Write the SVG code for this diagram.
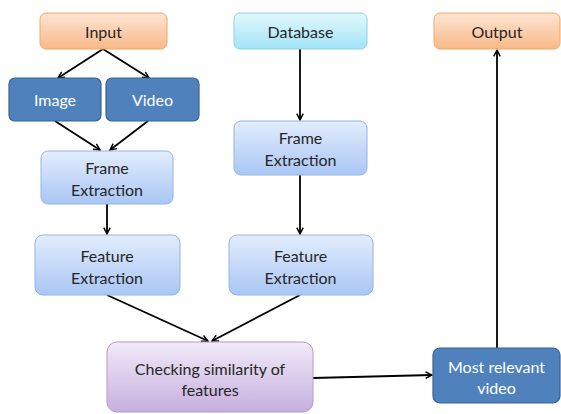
<svg xmlns="http://www.w3.org/2000/svg" width="561" height="414" viewBox="0 0 561 414">
<style>
text{font-family:Lato,"Liberation Sans",sans-serif;font-size:16px;text-anchor:middle;dominant-baseline:central;fill:#262626}
.w{fill:#ffffff}
.conn{stroke:#000;stroke-width:1.8;fill:none;marker-end:url(#ah)}
.or{fill:url(#gOr);stroke:#f2a766;stroke-width:1}
.cy{fill:url(#gCy);stroke:#8fcfe6;stroke-width:1}
.lb{fill:url(#gLb);stroke:#95b3e3;stroke-width:1}
.db{fill:#4f81bd;stroke:#3a6291;stroke-width:1.2}
.pu{fill:url(#gPu);stroke:#b49ad0;stroke-width:1}
</style>
<defs>
<linearGradient id="gOr" x1="0" y1="0" x2="0" y2="1"><stop offset="0" stop-color="#fde6d4"/><stop offset="1" stop-color="#f9b888"/></linearGradient>
<linearGradient id="gCy" x1="0" y1="0" x2="0" y2="1"><stop offset="0" stop-color="#e2f8fd"/><stop offset="1" stop-color="#a3e4f7"/></linearGradient>
<linearGradient id="gLb" x1="0" y1="0" x2="0" y2="1"><stop offset="0" stop-color="#e3edfd"/><stop offset="1" stop-color="#a9c6f4"/></linearGradient>
<linearGradient id="gPu" x1="0" y1="0" x2="0" y2="1"><stop offset="0" stop-color="#f1eaf8"/><stop offset="1" stop-color="#c6afdf"/></linearGradient>
<marker id="ah" viewBox="0 0 10 10" refX="9" refY="5" markerWidth="8" markerHeight="8" orient="auto" markerUnits="userSpaceOnUse">
<path d="M1,1 L9,5 L1,9" fill="none" stroke="#000" stroke-width="1.8"/>
</marker>
</defs>
<g id="connectors">
<path class="conn" d="M103,49 L58,78"/>
<path class="conn" d="M103,49 L149,78"/>
<path class="conn" d="M55,121 L100,150"/>
<path class="conn" d="M148,121 L110,150"/>
<path class="conn" d="M107,204 L107,234"/>
<path class="conn" d="M300,49 L300,120"/>
<path class="conn" d="M300,175 L300,234"/>
<path class="conn" d="M107,295 L208,341"/>
<path class="conn" d="M300,295 L212,341"/>
<path class="conn" d="M313,378 L432,375"/>
<path class="conn" d="M497,348 L497,50"/>
</g>
<g id="input"><rect class="or" x="40" y="13" width="127" height="36" rx="6"/><text x="103.5" y="31">Input</text></g>
<g id="database"><rect class="cy" x="234" y="13" width="133" height="36" rx="6"/><text x="300.5" y="31">Database</text></g>
<g id="output"><rect class="or" x="434" y="13" width="126" height="36" rx="6"/><text x="497" y="31">Output</text></g>
<g id="image"><rect class="db" x="9" y="78" width="92" height="43" rx="6"/><text class="w" x="55" y="99.5">Image</text></g>
<g id="video"><rect class="db" x="106" y="78" width="93" height="43" rx="6"/><text class="w" x="152.5" y="99.5">Video</text></g>
<g id="frame1"><rect class="lb" x="41" y="151" width="132" height="53" rx="7"/><text x="107" y="167">Frame</text><text x="107" y="189">Extraction</text></g>
<g id="frame2"><rect class="lb" x="234" y="121" width="133" height="54" rx="7"/><text x="300.5" y="137">Frame</text><text x="300.5" y="159">Extraction</text></g>
<g id="feature1"><rect class="lb" x="35" y="235" width="145" height="60" rx="8"/><text x="107" y="255">Feature</text><text x="107" y="277">Extraction</text></g>
<g id="feature2"><rect class="lb" x="229" y="235" width="144" height="60" rx="8"/><text x="300.5" y="255">Feature</text><text x="300.5" y="277">Extraction</text></g>
<g id="checking"><rect class="pu" x="107" y="342" width="206" height="70" rx="10"/><text x="210" y="368">Checking similarity of</text><text x="210" y="389">features</text></g>
<g id="relevant"><rect class="db" x="433" y="348" width="127" height="55" rx="7"/><text class="w" x="496.5" y="366">Most relevant</text><text class="w" x="496.5" y="387">video</text></g>
</svg>
